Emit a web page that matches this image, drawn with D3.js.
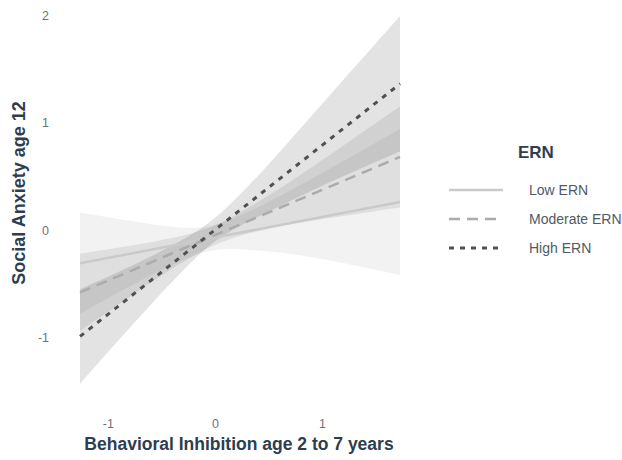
<!DOCTYPE html>
<html>
<head>
<meta charset="utf-8">
<script src="https://cdn.jsdelivr.net/npm/d3@7"></script>
<style>
  html, body { margin: 0; padding: 0; background: #fff; }
  svg { display: block; }
</style>
</head>
<body>
<svg id="chart" width="622" height="460"></svg>
<script>
// Behavioral inhibition (x) values where the confidence bands are sampled
const bandX = [-1.26, -0.75, -0.25, 0.1, 0.5, 1.0, 1.73];

// 95% confidence bands per ERN group (lower / upper)
const lowLo  = [-0.78, -0.50, -0.26, -0.18, -0.20, -0.27, -0.42];
const lowHi  = [ 0.16,  0.08,  0.02,  0.08,  0.26,  0.53,  0.94];
const modLo  = [-0.94, -0.59, -0.27, -0.10,  0.01,  0.10,  0.21];
const modHi  = [-0.22, -0.14, -0.04,  0.09,  0.32,  0.65,  1.15];
const highLo = [-1.43, -0.86, -0.33, -0.04,  0.17,  0.41,  0.73];
const highHi = [-0.55, -0.32, -0.06,  0.20,  0.61,  1.17,  1.99];

// Fitted regression lines (value at left and right end of x range)
const lineX   = [-1.26, 1.73];
const lowFit  = [-0.31, 0.26];
const modFit  = [-0.58, 0.68];
const highFit = [-0.99, 1.36];

const xTicks = [-1, 0, 1];
const yTicks = [-1, 0, 1, 2];
const groups = ["Low ERN", "Moderate ERN", "High ERN"];

const svg = d3.select("#chart");
const font = "'Liberation Sans', Arial, sans-serif";
const navy = "#2d3e50";
const tickCol = "#6e7276";

const x = d3.scaleLinear().domain([-1.26, 1.73]).range([80, 400]);
const y = d3.scaleLinear().domain([-1, 2]).range([337.5, 15]);

const styles = [
  { lo: lowLo,  hi: lowHi,  fit: lowFit,  fill: 0.05, stroke: "#cacaca", width: 2.5, dash: null },
  { lo: modLo,  hi: modHi,  fit: modFit,  fill: 0.08, stroke: "#ababab", width: 2.5, dash: "11,7" },
  { lo: highLo, hi: highHi, fit: highFit, fill: 0.11, stroke: "#505050", width: 3,   dash: "5,6" }
];

const area = d3.area()
  .x(d => x(d.x))
  .y0(d => y(d.lo))
  .y1(d => y(d.hi))
  .curve(d3.curveNatural);

const line = d3.line().x(d => x(d.x)).y(d => y(d.v));

const plot = svg.append("g");

// confidence bands
styles.forEach(s => {
  const pts = bandX.map((bx, i) => ({ x: bx, lo: s.lo[i], hi: s.hi[i] }));
  plot.append("path")
    .attr("d", area(pts))
    .attr("fill", "#000")
    .attr("fill-opacity", s.fill);
});

// fitted lines
styles.forEach(s => {
  const pts = lineX.map((lx, i) => ({ x: lx, v: s.fit[i] }));
  plot.append("path")
    .attr("d", line(pts))
    .attr("fill", "none")
    .attr("stroke", s.stroke)
    .attr("stroke-width", s.width)
    .attr("stroke-dasharray", s.dash);
});

const fmt = d => String(d);

// x axis
const xAxis = svg.append("g")
  .attr("transform", "translate(0,428)")
  .call(d3.axisBottom(x).tickValues(xTicks).tickSize(0).tickPadding(0).tickFormat(fmt));
xAxis.select(".domain").remove();
xAxis.selectAll("text")
  .attr("fill", tickCol).attr("font-family", font).attr("font-size", 12.5).attr("dy", 0);

// y axis
const yAxis = svg.append("g")
  .attr("transform", "translate(49,0)")
  .call(d3.axisLeft(y).tickValues(yTicks).tickSize(0).tickPadding(0).tickFormat(fmt));
yAxis.select(".domain").remove();
yAxis.selectAll("text")
  .attr("fill", tickCol).attr("font-family", font).attr("font-size", 12.5).attr("dy", "0.32em");

// axis titles
svg.append("text")
  .attr("x", 239).attr("y", 450)
  .attr("text-anchor", "middle")
  .attr("font-family", font).attr("font-weight", "bold").attr("font-size", 17.5)
  .attr("fill", navy)
  .text("Behavioral Inhibition age 2 to 7 years");

svg.append("text")
  .attr("transform", "translate(25,193) rotate(-90)")
  .attr("text-anchor", "middle")
  .attr("font-family", font).attr("font-weight", "bold").attr("font-size", 18)
  .attr("fill", navy)
  .text("Social Anxiety age 12");

// legend
const legend = svg.append("g");
legend.append("text")
  .attr("x", 518).attr("y", 158)
  .attr("font-family", font).attr("font-weight", "bold").attr("font-size", 17)
  .attr("fill", navy)
  .text("ERN");

groups.forEach((g, i) => {
  const s = styles[i];
  const ly = 190 + i * 29;
  legend.append("line")
    .attr("x1", 449).attr("x2", 503).attr("y1", ly).attr("y2", ly)
    .attr("stroke", s.stroke).attr("stroke-width", s.width)
    .attr("stroke-dasharray", s.dash);
  legend.append("text")
    .attr("x", 529).attr("y", ly).attr("dy", "0.35em")
    .attr("font-family", font).attr("font-size", 14)
    .attr("fill", "#505a64")
    .text(g);
});
</script>
</body>
</html>
